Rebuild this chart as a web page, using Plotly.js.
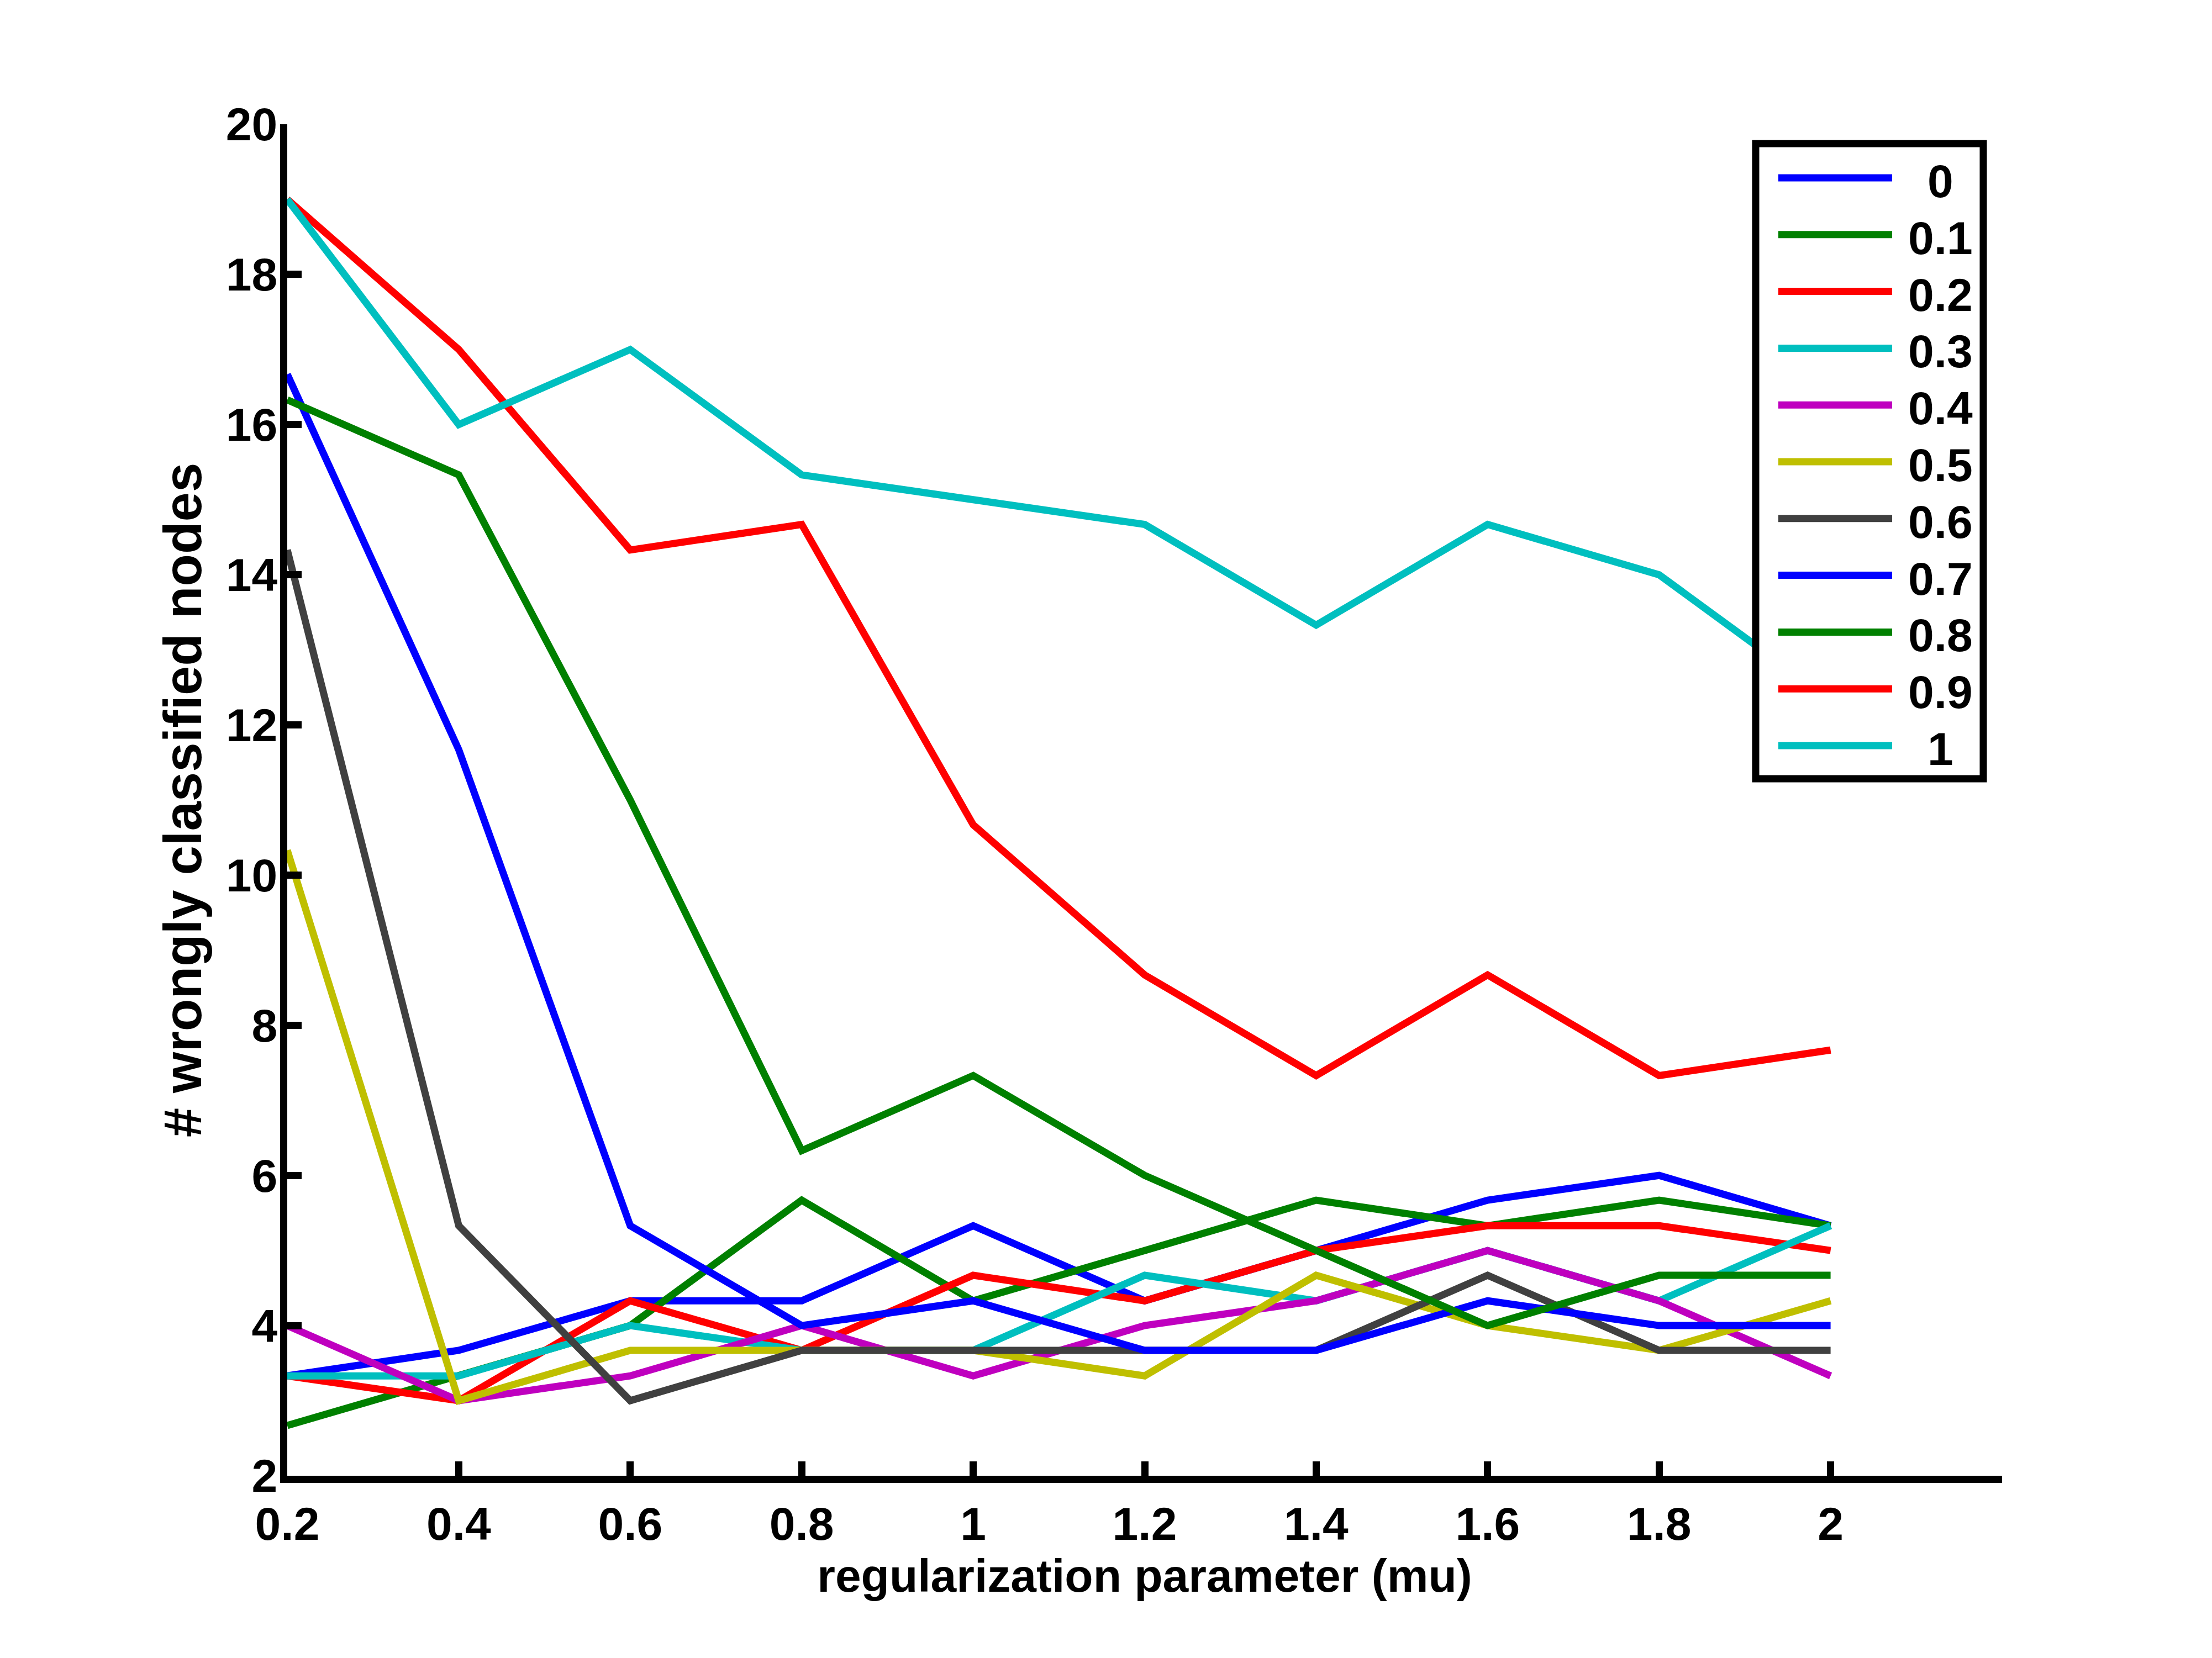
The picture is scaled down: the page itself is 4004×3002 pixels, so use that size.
<!DOCTYPE html>
<html>
<head>
<meta charset="utf-8">
<script src="https://cdn.plot.ly/plotly-3.0.1.min.js"></script>
<style>
  html, body { margin: 0; padding: 0; background: #fff; }
  #myDiv { width: 4004px; height: 3002px; }
</style>
</head>
<body>
<div id="myDiv"></div>
<script>
// regularization parameter (mu)
var mu = [0.2, 0.4, 0.6, 0.8, 1, 1.2, 1.4, 1.6, 1.8, 2];
var muTicks = ['0.2', '0.4', '0.6', '0.8', '1', '1.2', '1.4', '1.6', '1.8', '2'];
var yTicks = [2, 4, 6, 8, 10, 12, 14, 16, 18, 20];

// wrongly classified nodes, one series per weight
var names = ['0', '0.1', '0.2', '0.3', '0.4', '0.5', '0.6', '0.7', '0.8', '0.9', '1'];
var w00 = [3.33, 3.67, 4.33, 4.33, 5.33, 4.33, 5, 5.67, 6, 5.33];
var w01 = [2.67, 3.33, 4, 5.67, 4.33, 5, 5.67, 5.33, 5.67, 5.33];
var w02 = [3.33, 3, 4.33, 3.67, 4.67, 4.33, 5, 5.33, 5.33, 5];
var w03 = [3.33, 3.33, 4, 3.67, 3.67, 4.67, 4.33, 5, 4.33, 5.33];
var w04 = [4, 3, 3.33, 4, 3.33, 4, 4.33, 5, 4.33, 3.33];
var w05 = [10.33, 3, 3.67, 3.67, 3.67, 3.33, 4.67, 4, 3.67, 4.33];
var w06 = [14.33, 5.33, 3, 3.67, 3.67, 3.67, 3.67, 4.67, 3.67, 3.67];
var w07 = [16.67, 11.67, 5.33, 4, 4.33, 3.67, 3.67, 4.33, 4, 4];
var w08 = [16.33, 15.33, 11, 6.33, 7.33, 6, 5, 4, 4.67, 4.67];
var w09 = [19, 17, 14.33, 14.67, 10.67, 8.67, 7.33, 8.67, 7.33, 7.67];
var w10 = [19, 16, 17, 15.33, 15, 14.67, 13.33, 14.67, 14, 12.33];
var series = [w00, w01, w02, w03, w04, w05, w06, w07, w08, w09, w10];

// matlab default line colours
var colors = ['#0000ff', '#008000', '#ff0000', '#00bfbf', '#bf00bf', '#bfbf00', '#404040'];

var font = {family: 'Liberation Sans, Arial, sans-serif', size: 84, color: '#000', weight: 'bold'};
var bigFont = Object.assign({}, font, {size: 96});
var lw = 13;

var traces = [];
for (var i = 0; i < series.length; i++) {
    traces.push({
        x: mu,
        y: series[i],
        name: names[i],
        type: 'scatter',
        mode: 'lines',
        line: {color: colors[i % colors.length], width: lw}
    });
}

// plot box in pixels
var L = 520, R = 3624, T = 225, B = 2672;
function px(x) { return (x - L) / (R - L); }
function py(y) { return (B - y) / (B - T); }

// legend drawn by hand so the sample lines get their long matlab look
var shapes = [{
    type: 'rect', xref: 'paper', yref: 'paper', layer: 'above',
    x0: px(3178), x1: px(3590), y0: py(1410), y1: py(260),
    fillcolor: '#fff', line: {color: '#000', width: 13}
}];
var annotations = [];
for (var k = 0; k < names.length; k++) {
    var yy = 322 + 102.8 * k;
    shapes.push({
        type: 'line', xref: 'paper', yref: 'paper', layer: 'above',
        x0: px(3219), x1: px(3425), y0: py(yy), y1: py(yy),
        line: {color: colors[k % colors.length], width: lw}
    });
    annotations.push({
        xref: 'paper', yref: 'paper', x: px(3512), y: py(yy + 6),
        xanchor: 'center', yanchor: 'middle', showarrow: false,
        text: names[k], font: font
    });
}

var axisStyle = {
    showline: true, linecolor: '#000', linewidth: 13,
    ticks: 'inside', ticklen: 26, tickwidth: 13, tickcolor: '#000',
    showgrid: false, zeroline: false, mirror: false,
    tickfont: font
};

var layout = {
    width: 4004,
    height: 3002,
    margin: {l: L, r: 4004 - R, t: T, b: 3002 - B},
    paper_bgcolor: '#fff',
    plot_bgcolor: '#fff',
    showlegend: false,
    font: font,
    xaxis: Object.assign({}, axisStyle, {
        range: [0.2, 2.2],
        tickvals: mu,
        ticktext: muTicks,
        ticklabelstandoff: 2,
        title: {text: 'regularization parameter (mu)', font: font, standoff: 0}
    }),
    yaxis: Object.assign({}, axisStyle, {
        range: [2, 20],
        tickvals: yTicks,
        ticklabelstandoff: -12,
        title: {text: '# wrongly classified nodes', font: bigFont, standoff: 18}
    }),
    shapes: shapes,
    annotations: annotations
};

Plotly.newPlot('myDiv', traces, layout, {staticPlot: true});
</script>
</body>
</html>
